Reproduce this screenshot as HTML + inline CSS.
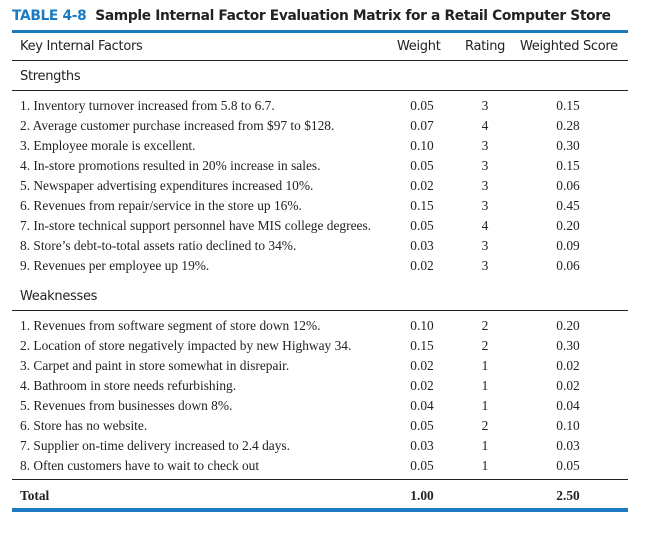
<!DOCTYPE html>
<html><head><style>
body{margin:0;width:645px;height:533px;background:#fff;position:relative;overflow:hidden}
div{position:absolute;white-space:nowrap}
.s{font-family:"DejaVu Sans","Liberation Sans",sans-serif;font-size:13px;color:#222;letter-spacing:-0.3px}
.r{font-family:"Liberation Serif",serif;font-size:13.4px;color:#222;line-height:14px}
.c{text-align:center;width:60px}
.h{left:12px;width:616px;height:1px;background:#222}
</style></head><body>
<div class="s" style="left:12px;top:8px;font-weight:bold;font-size:13.8px;letter-spacing:-0.35px"><span style="color:#1b7bc0">TABLE 4-8</span>&nbsp; Sample Internal Factor Evaluation Matrix for a Retail Computer Store</div>
<div style="left:12px;top:30px;width:616px;height:3px;background:#1b7bc0"></div>
<div class="s" style="left:20px;top:39px">Key Internal Factors</div>
<div class="s" style="left:397px;top:39px">Weight</div>
<div class="s" style="left:465px;top:39px">Rating</div>
<div class="s" style="left:520px;top:39px">Weighted Score</div>
<div class="h" style="top:60px"></div>
<div class="s" style="left:20px;top:69px">Strengths</div>
<div class="h" style="top:90px"></div>
<div id="rows"></div>
<div class="s" style="left:20px;top:289px">Weaknesses</div>
<div class="h" style="top:310px"></div>
<div class="h" style="top:479px"></div>
<div class="r" style="left:20px;top:489px;font-weight:bold">Total</div>
<div class="r c" style="left:392px;top:489px;font-weight:bold">1.00</div>
<div class="r c" style="left:538px;top:489px;font-weight:bold">2.50</div>
<div style="left:12px;top:508px;width:616px;height:4px;background:#1b7bc0"></div>
<script>
var d=[["1. Inventory turnover increased from 5.8 to 6.7.","0.05","3","0.15"],
["2. Average customer purchase increased from $97 to $128.","0.07","4","0.28"],
["3. Employee morale is excellent.","0.10","3","0.30"],
["4. In-store promotions resulted in 20% increase in sales.","0.05","3","0.15"],
["5. Newspaper advertising expenditures increased 10%.","0.02","3","0.06"],
["6. Revenues from repair/service in the store up 16%.","0.15","3","0.45"],
["7. In-store technical support personnel have MIS college degrees.","0.05","4","0.20"],
["8. Store’s debt-to-total assets ratio declined to 34%.","0.03","3","0.09"],
["9. Revenues per employee up 19%.","0.02","3","0.06"]];
var w=[["1. Revenues from software segment of store down 12%.","0.10","2","0.20"],
["2. Location of store negatively impacted by new Highway 34.","0.15","2","0.30"],
["3. Carpet and paint in store somewhat in disrepair.","0.02","1","0.02"],
["4. Bathroom in store needs refurbishing.","0.02","1","0.02"],
["5. Revenues from businesses down 8%.","0.04","1","0.04"],
["6. Store has no website.","0.05","2","0.10"],
["7. Supplier on-time delivery increased to 2.4 days.","0.03","1","0.03"],
["8. Often customers have to wait to check out","0.05","1","0.05"]];
var h="";
function add(a,t0){a.forEach(function(r,i){var t=t0+i*20;
h+='<div class="r" style="left:20px;top:'+t+'px">'+r[0]+'</div>'+
'<div class="r c" style="left:392px;top:'+t+'px">'+r[1]+'</div>'+
'<div class="r c" style="left:455px;top:'+t+'px">'+r[2]+'</div>'+
'<div class="r c" style="left:538px;top:'+t+'px">'+r[3]+'</div>';});}
add(d,99);add(w,319);
document.getElementById('rows').outerHTML=h;
</script>
</body></html>
